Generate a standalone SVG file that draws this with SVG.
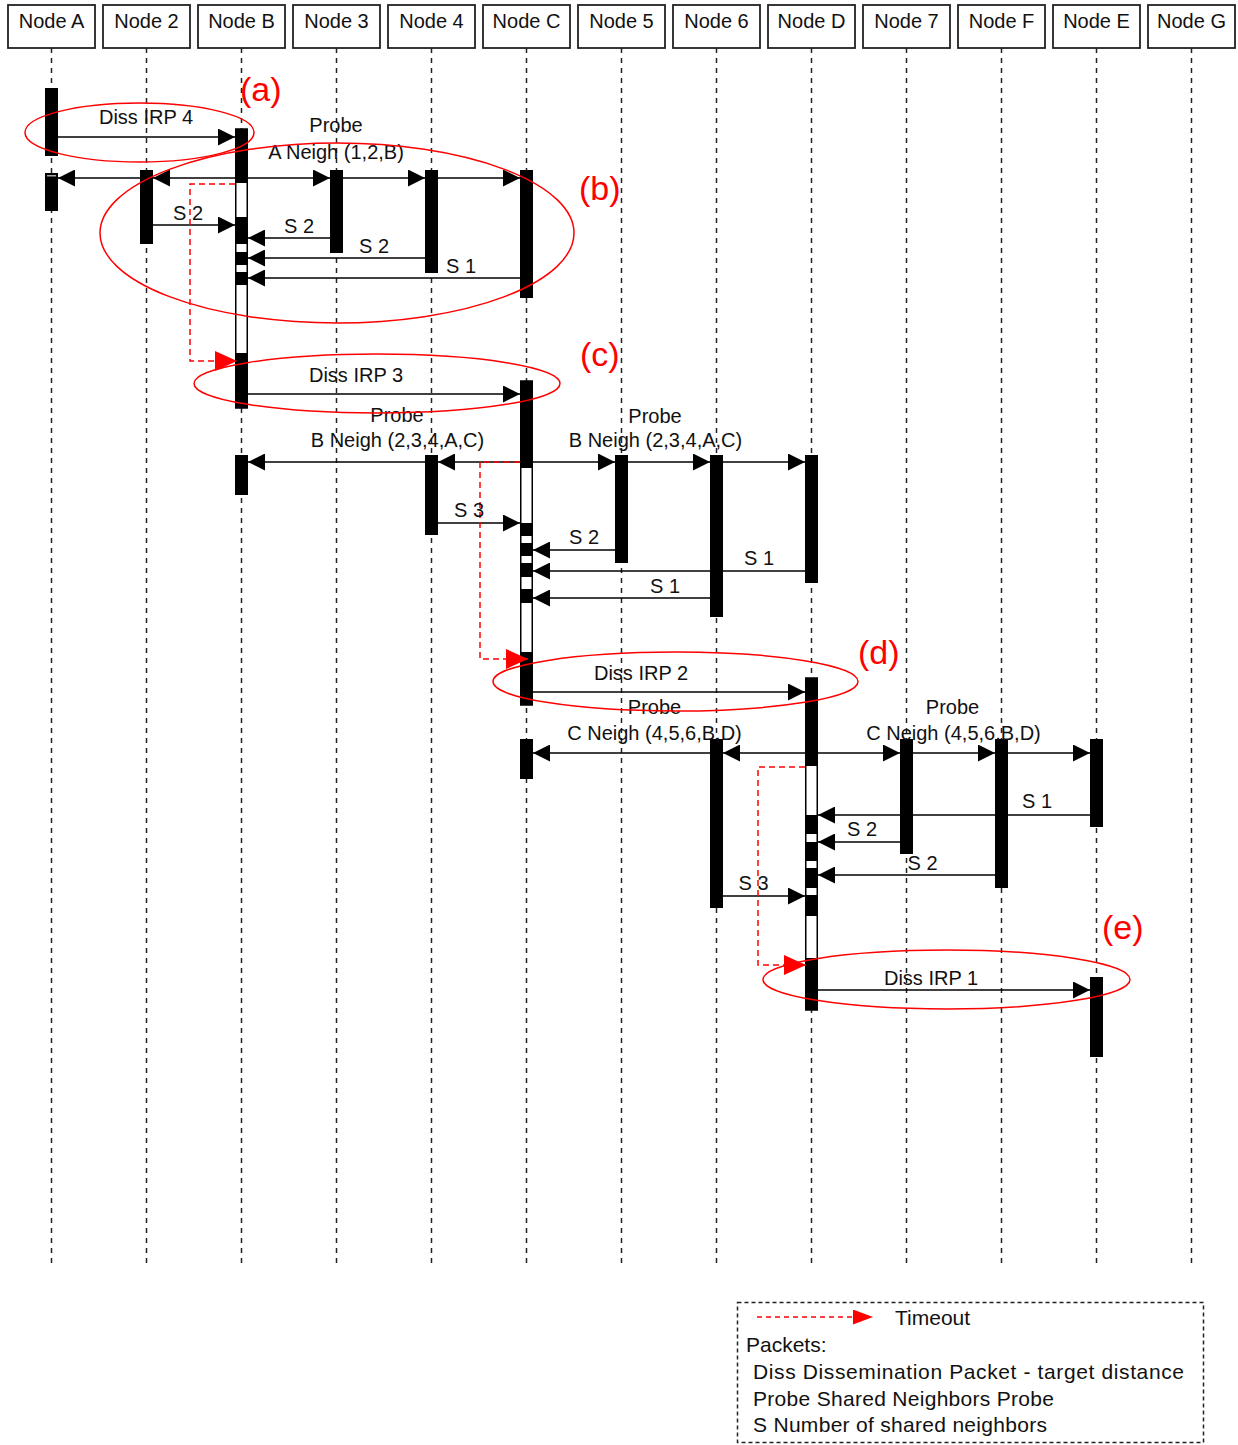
<svg xmlns="http://www.w3.org/2000/svg" width="1238" height="1445" viewBox="0 0 1238 1445">
<style>
  .hdr{fill:#fff;stroke:#222;stroke-width:1.8}
  .hl{font-family:"Liberation Sans",Arial,sans-serif;font-size:20px;fill:#111;text-anchor:middle}
  .life{stroke:#222;stroke-width:1.5;stroke-dasharray:5,5;fill:none}
  .bar{fill:#000}
  .wbar{fill:#fff;stroke:#000;stroke-width:1.5}
  .msg{stroke:#000;stroke-width:1.5;fill:none;marker-end:url(#ah)}
  .lbl{font-family:"Liberation Sans",Arial,sans-serif;font-size:20px;fill:#111;text-anchor:middle}
  .tag{font-family:"Liberation Sans",Arial,sans-serif;font-size:34px;fill:#f00}
  .ell{fill:none;stroke:#f00;stroke-width:1.5}
  .tmo{fill:none;stroke:#f00;stroke-width:1.5;stroke-dasharray:6,4;marker-end:url(#rh)}
  .leg{font-family:"Liberation Sans",Arial,sans-serif;font-size:21px;fill:#111}
</style>
<defs>
  <marker id="ah" viewBox="0 0 17 17" refX="17" refY="8.5" markerWidth="17" markerHeight="17" markerUnits="userSpaceOnUse" orient="auto"><path d="M0,0 L17,8.5 L0,17 Z" fill="#000"/></marker>
  <marker id="rh" viewBox="0 0 22 20" refX="22" refY="10" markerWidth="22" markerHeight="20" markerUnits="userSpaceOnUse" orient="auto"><path d="M0,0 L22,10 L0,20 Z" fill="#f00"/></marker>
  <marker id="rhs" viewBox="0 0 20 15" refX="20" refY="7.5" markerWidth="20" markerHeight="15" markerUnits="userSpaceOnUse" orient="auto"><path d="M0,0 L20,7.5 L0,15 Z" fill="#f00"/></marker>
</defs>
<rect width="1238" height="1445" fill="#fff"/>

<g id="node-A">
  <rect class="hdr" x="8" y="5" width="87" height="43"/>
  <text class="hl" x="51.5" y="28">Node A</text>
  <line class="life" x1="51.5" y1="48" x2="51.5" y2="1265"/>
  <rect class="bar" x="45" y="88" width="13" height="68"/>
  <rect class="bar" x="45" y="173" width="13" height="38"/>
  <rect x="47" y="175" width="9" height="1.5" fill="#aaa"/>
</g>
<g id="node-2">
  <rect class="hdr" x="103" y="5" width="87" height="43"/>
  <text class="hl" x="146.5" y="28">Node 2</text>
  <line class="life" x1="146.5" y1="48" x2="146.5" y2="1265"/>
  <rect class="bar" x="140" y="170" width="13" height="74"/>
</g>
<g id="node-B">
  <rect class="hdr" x="198" y="5" width="87" height="43"/>
  <text class="hl" x="241.5" y="28">Node B</text>
  <line class="life" x1="241.5" y1="48" x2="241.5" y2="1265"/>
  <rect class="wbar" x="235.75" y="129" width="11.5" height="279"/>
  <rect class="bar" x="235" y="129" width="13" height="54"/>
  <rect class="bar" x="235" y="217" width="13" height="27"/>
  <rect class="bar" x="235" y="252" width="13" height="13"/>
  <rect class="bar" x="235" y="272" width="13" height="13"/>
  <rect class="bar" x="235" y="353" width="13" height="55"/>
  <rect class="bar" x="235" y="455" width="13" height="40"/>
</g>
<g id="node-3">
  <rect class="hdr" x="293" y="5" width="87" height="43"/>
  <text class="hl" x="336.5" y="28">Node 3</text>
  <line class="life" x1="336.5" y1="48" x2="336.5" y2="1265"/>
  <rect class="bar" x="330" y="170" width="13" height="83"/>
</g>
<g id="node-4">
  <rect class="hdr" x="388" y="5" width="87" height="43"/>
  <text class="hl" x="431.5" y="28">Node 4</text>
  <line class="life" x1="431.5" y1="48" x2="431.5" y2="1265"/>
  <rect class="bar" x="425" y="170" width="13" height="103"/>
  <rect class="bar" x="425" y="455" width="13" height="80"/>
</g>
<g id="node-C">
  <rect class="hdr" x="483" y="5" width="87" height="43"/>
  <text class="hl" x="526.5" y="28">Node C</text>
  <line class="life" x1="526.5" y1="48" x2="526.5" y2="1265"/>
  <rect class="bar" x="520" y="170" width="13" height="128"/>
  <rect class="wbar" x="520.75" y="381" width="11.5" height="324"/>
  <rect class="bar" x="520" y="381" width="13" height="87"/>
  <rect class="bar" x="520" y="523" width="13" height="13"/>
  <rect class="bar" x="520" y="543" width="13" height="13"/>
  <rect class="bar" x="520" y="563" width="13" height="14"/>
  <rect class="bar" x="520" y="589" width="13" height="14"/>
  <rect class="bar" x="520" y="652" width="13" height="53"/>
  <rect class="bar" x="520" y="739" width="13" height="40"/>
</g>
<g id="node-5">
  <rect class="hdr" x="578" y="5" width="87" height="43"/>
  <text class="hl" x="621.5" y="28">Node 5</text>
  <line class="life" x1="621.5" y1="48" x2="621.5" y2="1265"/>
  <rect class="bar" x="615" y="455" width="13" height="108"/>
</g>
<g id="node-6">
  <rect class="hdr" x="673" y="5" width="87" height="43"/>
  <text class="hl" x="716.5" y="28">Node 6</text>
  <line class="life" x1="716.5" y1="48" x2="716.5" y2="1265"/>
  <rect class="bar" x="710" y="455" width="13" height="162"/>
  <rect class="bar" x="710" y="739" width="13" height="169"/>
</g>
<g id="node-D">
  <rect class="hdr" x="768" y="5" width="87" height="43"/>
  <text class="hl" x="811.5" y="28">Node D</text>
  <line class="life" x1="811.5" y1="48" x2="811.5" y2="1265"/>
  <rect class="bar" x="805" y="455" width="13" height="128"/>
  <rect class="wbar" x="805.75" y="678" width="11.5" height="332"/>
  <rect class="bar" x="805" y="678" width="13" height="88"/>
  <rect class="bar" x="805" y="815" width="13" height="19"/>
  <rect class="bar" x="805" y="842" width="13" height="19"/>
  <rect class="bar" x="805" y="868" width="13" height="20"/>
  <rect class="bar" x="805" y="895" width="13" height="21"/>
  <rect class="bar" x="805" y="958" width="13" height="52"/>
</g>
<g id="node-7">
  <rect class="hdr" x="863" y="5" width="87" height="43"/>
  <text class="hl" x="906.5" y="28">Node 7</text>
  <line class="life" x1="906.5" y1="48" x2="906.5" y2="1265"/>
  <rect class="bar" x="900" y="739" width="13" height="115"/>
</g>
<g id="node-F">
  <rect class="hdr" x="958" y="5" width="87" height="43"/>
  <text class="hl" x="1001.5" y="28">Node F</text>
  <line class="life" x1="1001.5" y1="48" x2="1001.5" y2="1265"/>
  <rect class="bar" x="995" y="739" width="13" height="149"/>
</g>
<g id="node-E">
  <rect class="hdr" x="1053" y="5" width="87" height="43"/>
  <text class="hl" x="1096.5" y="28">Node E</text>
  <line class="life" x1="1096.5" y1="48" x2="1096.5" y2="1265"/>
  <rect class="bar" x="1090" y="739" width="13" height="88"/>
  <rect class="bar" x="1090" y="977" width="13" height="80"/>
</g>
<g id="node-G">
  <rect class="hdr" x="1148" y="5" width="87" height="43"/>
  <text class="hl" x="1191.5" y="28">Node G</text>
  <line class="life" x1="1191.5" y1="48" x2="1191.5" y2="1265"/>
</g>

<g id="connectors">
  <line class="msg" x1="58" y1="137" x2="235" y2="137"/>
  <line class="msg" x1="235" y1="178" x2="153" y2="178"/>
  <line class="msg" x1="140" y1="178" x2="58" y2="178"/>
  <line class="msg" x1="248" y1="178" x2="330" y2="178"/>
  <line class="msg" x1="343" y1="178" x2="425" y2="178"/>
  <line class="msg" x1="438" y1="178" x2="520" y2="178"/>
  <line class="msg" x1="153" y1="225" x2="235" y2="225"/>
  <line class="msg" x1="330" y1="238" x2="248" y2="238"/>
  <line class="msg" x1="425" y1="258" x2="248" y2="258"/>
  <line class="msg" x1="520" y1="278" x2="248" y2="278"/>

  <line class="msg" x1="248" y1="394" x2="520" y2="394"/>
  <line class="msg" x1="520" y1="462" x2="438" y2="462"/>
  <line class="msg" x1="425" y1="462" x2="248" y2="462"/>
  <line class="msg" x1="533" y1="462" x2="615" y2="462"/>
  <line class="msg" x1="628" y1="462" x2="710" y2="462"/>
  <line class="msg" x1="723" y1="462" x2="805" y2="462"/>
  <line class="msg" x1="438" y1="523" x2="520" y2="523"/>
  <line class="msg" x1="615" y1="550" x2="533" y2="550"/>
  <line class="msg" x1="805" y1="571" x2="533" y2="571"/>
  <line class="msg" x1="710" y1="598" x2="533" y2="598"/>

  <line class="msg" x1="533" y1="692" x2="805" y2="692"/>
  <line class="msg" x1="805" y1="753" x2="723" y2="753"/>
  <line class="msg" x1="710" y1="753" x2="533" y2="753"/>
  <line class="msg" x1="818" y1="753" x2="900" y2="753"/>
  <line class="msg" x1="913" y1="753" x2="995" y2="753"/>
  <line class="msg" x1="1008" y1="753" x2="1090" y2="753"/>
  <line class="msg" x1="1090" y1="815" x2="818" y2="815"/>
  <line class="msg" x1="900" y1="842" x2="818" y2="842"/>
  <line class="msg" x1="995" y1="875" x2="818" y2="875"/>
  <line class="msg" x1="723" y1="896" x2="805" y2="896"/>

  <line class="msg" x1="818" y1="990" x2="1090" y2="990"/>

  <polyline class="tmo" points="235,184 190,184 190,361 237,361"/>
  <polyline class="tmo" points="520,462 480,462 480,659 528,659"/>
  <polyline class="tmo" points="805,767 758,767 758,965 806,965"/>
</g>

<g id="labels">
  <text class="lbl" x="146" y="124">Diss IRP 4</text>
  <text class="lbl" x="336" y="131.5">Probe</text>
  <text class="lbl" x="336" y="159">A Neigh (1,2,B)</text>
  <text class="lbl" x="188" y="220">S 2</text>
  <text class="lbl" x="299" y="233">S 2</text>
  <text class="lbl" x="374" y="253">S 2</text>
  <text class="lbl" x="461" y="273">S 1</text>

  <text class="lbl" x="356" y="382">Diss IRP 3</text>
  <text class="lbl" x="397" y="422">Probe</text>
  <text class="lbl" x="397.5" y="447">B Neigh (2,3,4,A,C)</text>
  <text class="lbl" x="655" y="423">Probe</text>
  <text class="lbl" x="655.5" y="447">B Neigh (2,3,4,A,C)</text>
  <text class="lbl" x="469" y="517">S 3</text>
  <text class="lbl" x="584" y="544">S 2</text>
  <text class="lbl" x="759" y="565">S 1</text>
  <text class="lbl" x="665" y="593">S 1</text>

  <text class="lbl" x="641" y="680">Diss IRP 2</text>
  <text class="lbl" x="654.5" y="714">Probe</text>
  <text class="lbl" x="654.5" y="740">C Neigh (4,5,6,B,D)</text>
  <text class="lbl" x="952.5" y="714">Probe</text>
  <text class="lbl" x="953.5" y="740">C Neigh (4,5,6,B,D)</text>
  <text class="lbl" x="1037" y="808">S 1</text>
  <text class="lbl" x="862" y="836">S 2</text>
  <text class="lbl" x="922.5" y="870">S 2</text>
  <text class="lbl" x="753.5" y="890">S 3</text>

  <text class="lbl" x="931" y="985">Diss IRP 1</text>
</g>

<g id="phases">
  <ellipse class="ell" cx="139.5" cy="132.5" rx="114.5" ry="29.5"/>
  <ellipse class="ell" cx="337" cy="233" rx="237" ry="90"/>
  <ellipse class="ell" cx="377" cy="383.5" rx="183" ry="29.5"/>
  <ellipse class="ell" cx="675.5" cy="681.5" rx="182.5" ry="29.5"/>
  <ellipse class="ell" cx="946.5" cy="979.5" rx="183.5" ry="29.5"/>
  <text class="tag" x="240" y="101">(a)</text>
  <text class="tag" x="579" y="200">(b)</text>
  <text class="tag" x="580" y="366">(c)</text>
  <text class="tag" x="858" y="664">(d)</text>
  <text class="tag" x="1102" y="939">(e)</text>
</g>

<g id="legend">
  <rect x="737.5" y="1302.5" width="466" height="140" fill="none" stroke="#222" stroke-width="1.5" stroke-dasharray="4,3"/>
  <line x1="757" y1="1317" x2="873" y2="1317" stroke="#f00" stroke-width="1.5" stroke-dasharray="5,4" marker-end="url(#rhs)"/>
  <text class="leg" x="895" y="1325">Timeout</text>
  <text class="leg" x="746" y="1352">Packets:</text>
  <text class="leg" x="753" y="1379" textLength="431" lengthAdjust="spacing">Diss Dissemination Packet - target distance</text>
  <text class="leg" x="753" y="1406" textLength="301" lengthAdjust="spacing">Probe Shared Neighbors Probe</text>
  <text class="leg" x="753" y="1432" textLength="294" lengthAdjust="spacing">S Number of shared neighbors</text>
</g>
</svg>
